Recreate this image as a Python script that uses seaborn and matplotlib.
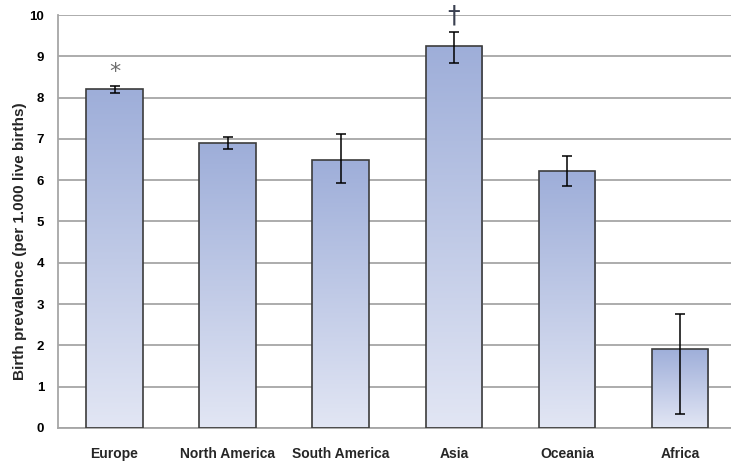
import numpy as np
import pandas as pd
import matplotlib
matplotlib.use("Agg")
import matplotlib.pyplot as plt
from matplotlib.colors import LinearSegmentedColormap
import seaborn as sns

regions = ["Europe", "North America", "South America", "Asia", "Oceania", "Africa"]
prevalence = [8.2, 6.9, 6.5, 9.25, 6.22, 1.92]
ci_low = [8.1, 6.76, 5.93, 8.83, 5.87, 0.35]
ci_high = [8.27, 7.04, 7.11, 9.6, 6.59, 2.75]
y_ticks = list(range(0, 11))
markers = {"Europe": "*", "Asia": "\u2020"}

df = pd.DataFrame({"region": regions, "prevalence": prevalence})

sns.set_theme(style="white")
plt.rcParams["font.family"] = ["Liberation Sans", "DejaVu Sans"]

fig = plt.figure(figsize=(7.31, 4.63), dpi=100)
ax = fig.add_axes([0.0793, 0.0756, 0.9207, 0.892])

sns.barplot(data=df, x="region", y="prevalence", order=regions, width=0.5,
            color="#a3b2db", edgecolor="#3c3c3c", linewidth=1.2, ax=ax, zorder=3)

# vertical gradient fill inside each bar
grad_cmap = LinearSegmentedColormap.from_list("bar_grad", ["#e2e6f4", "#9eaed9"])
grad = np.linspace(0, 1, 256).reshape(-1, 1)
for patch in list(ax.patches):
    x0, y0 = patch.get_x(), patch.get_y()
    w, h = patch.get_width(), patch.get_height()
    im = ax.imshow(grad, cmap=grad_cmap, origin="lower", aspect="auto",
                   extent=[x0, x0 + w, y0, y0 + h], zorder=2.5)
    im.set_clip_path(patch)
    patch.set_facecolor("none")

# asymmetric error bars
pos = np.arange(len(regions))
vals = np.array(prevalence)
yerr = np.vstack([vals - np.array(ci_low), np.array(ci_high) - vals])
ax.errorbar(pos, vals, yerr=yerr, fmt="none", ecolor="black",
            elinewidth=1.1, capsize=3.5, capthick=1.1, zorder=4)

# significance markers above the error bars
i = regions.index("Europe")
ax.text(i, ci_high[i] + 0.1, markers["Europe"], ha="center", va="bottom",
        fontsize=16, color="#6e6e6e", family=["DejaVu Sans"], clip_on=False, zorder=5)
i = regions.index("Asia")
ax.text(i, ci_high[i] + 0.1, markers["Asia"], ha="center", va="bottom",
        fontsize=18, color="#3a4050", family=["DejaVu Sans"],
        clip_on=False, zorder=5)

ax.set_xlim(-0.5, 5.45)
ax.set_ylim(0, 10)
ax.set_yticks(y_ticks)
ax.set_yticklabels([str(t) for t in y_ticks], fontweight="bold", fontsize=9.5)
ax.yaxis.grid(True, color="#a6a6a6", linewidth=1.3, zorder=0)
ax.set_axisbelow(True)
ax.tick_params(axis="y", length=4, color="#a6a6a6", width=1.3, pad=6, labelcolor="black")
ax.tick_params(axis="x", length=0, pad=14)
for lbl in ax.get_xticklabels():
    lbl.set_fontweight("bold")
    lbl.set_fontsize(10)

ax.set_xlabel("")
ax.set_ylabel("Birth prevalence (per 1.000 live births)", fontweight="bold",
              fontsize=11)
ax.yaxis.set_label_coords(-0.046, 0.453)

for side in ["top", "right"]:
    ax.spines[side].set_visible(False)
ax.spines["left"].set_color("#a6a6a6")
ax.spines["left"].set_linewidth(1.3)
ax.spines["bottom"].set_color("#a6a6a6")
ax.spines["bottom"].set_linewidth(1.3)

fig.savefig("out.png", dpi=100)
